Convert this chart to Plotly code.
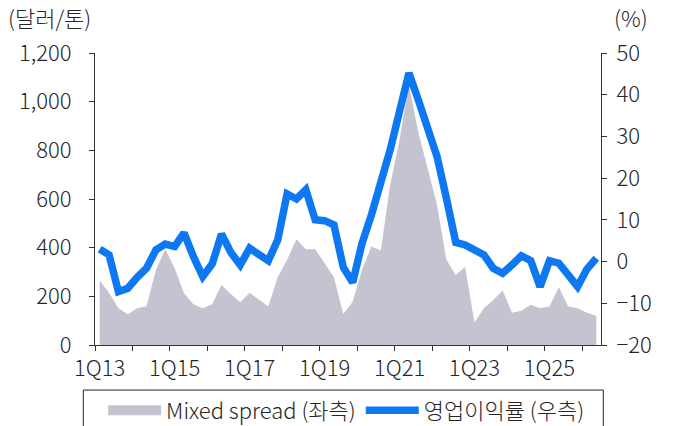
import plotly.graph_objects as go

quarters = [
    "1Q13", "2Q13", "3Q13", "4Q13", "1Q14", "2Q14", "3Q14", "4Q14",
    "1Q15", "2Q15", "3Q15", "4Q15", "1Q16", "2Q16", "3Q16", "4Q16",
    "1Q17", "2Q17", "3Q17", "4Q17", "1Q18", "2Q18", "3Q18", "4Q18",
    "1Q19", "2Q19", "3Q19", "4Q19", "1Q20", "2Q20", "3Q20", "4Q20",
    "1Q21", "2Q21", "3Q21", "4Q21", "1Q22", "2Q22", "3Q22", "4Q22",
    "1Q23", "2Q23", "3Q23", "4Q23", "1Q24", "2Q24", "3Q24", "4Q24",
    "1Q25", "2Q25", "3Q25", "4Q25", "1Q26", "2Q26",
]

mixed_spread = [
    265, 215, 151, 126, 151, 159, 309, 394,
    315, 213, 167, 151, 167, 247, 210, 176,
    215, 185, 158, 278, 350, 435, 394, 394,
    336, 278, 127, 178, 309, 405, 388, 658,
    843, 1070, 875, 720, 576, 350, 288, 322,
    92, 151, 185, 224, 133, 141, 165, 151,
    158, 237, 158, 151, 133, 119,
]

op_margin = [
    3.0, 1.6, -7.2, -6.4, -3.8, -1.6, 2.8, 4.2,
    3.6, 6.9, 1.2, -3.6, -0.6, 6.6, 2.2, -0.8,
    3.2, 1.5, 0.2, 5.2, 16.2, 15.0, 17.2, 10.0,
    9.8, 8.8, -1.4, -5.0, 4.4, 11.2, 18.4, 26.8,
    36.0, 45.2, 38.8, 32.0, 25.2, 15.2, 4.6, 4.0,
    2.8, 1.6, -1.6, -2.8, -0.8, 1.4, 0.2, -6.0,
    0.2, -0.4, -3.2, -6.0, -1.8, 0.8,
]

tick_labels = ["1Q13", "1Q15", "1Q17", "1Q19", "1Q21", "1Q23", "1Q25"]

left_title = "(달러/톤)"
right_title = "(%)"
name_spread = "Mixed spread (좌측)"
name_margin = "영업이익률 (우측)"

FONT = "Noto Sans CJK KR"
TXT = "#262626"
AX = "#333333"
GRAY = "#C3C4CF"
BLUE = "#0E78F2"
FS = 22

x = list(range(len(quarters)))
tickvals = [quarters.index(t) for t in tick_labels]

fig = go.Figure()
fig.add_trace(go.Scatter(
    x=x, y=mixed_spread, name=name_spread, mode="lines",
    fill="tozeroy", fillcolor=GRAY, line=dict(width=0, color=GRAY),
    yaxis="y", hoverinfo="skip", showlegend=False, legendgroup="s",
))
# legend proxy for the area series (rectangular swatch)
fig.add_trace(go.Scatter(
    x=[None], y=[None], name=name_spread, mode="lines",
    line=dict(width=12.6, color=GRAY), yaxis="y", legendgroup="s",
    showlegend=True,
))
fig.add_trace(go.Scatter(
    x=x, y=op_margin, name=name_margin, mode="lines",
    line=dict(width=7.5, color=BLUE), yaxis="y2",
))

fnt = dict(family=FONT, size=FS, color=TXT, weight=300)

fig.update_layout(
    width=673, height=426,
    margin=dict(l=95, r=72, t=53, b=81, pad=0, autoexpand=False),
    paper_bgcolor="white", plot_bgcolor="white",
    font=fnt,
    showlegend=True,
    legend=dict(
        orientation="h", xref="paper", yref="paper",
        x=0.016, xanchor="left", y=-0.1526, yanchor="top",
        font=fnt, itemwidth=53,
        bgcolor="rgba(0,0,0,0)", borderwidth=0,
        tracegroupgap=0, itemclick=False, traceorder="normal",
    ),
    xaxis=dict(
        range=[-0.5, len(quarters) - 0.5],
        tickmode="array", tickvals=tickvals, ticktext=tick_labels,
        ticks="", showgrid=False, zeroline=False,
        showline=True, linecolor=AX, linewidth=1.2,
        ticklabelstandoff=3, automargin=False,
        minor=dict(tick0=-0.5, dtick=4, ticks="outside", ticklen=5,
                   tickcolor=AX, tickwidth=1, showgrid=False),
    ),
    yaxis=dict(
        range=[0, 1200], dtick=200, tickformat=",",
        ticks="outside", ticklen=5, tickcolor=AX,
        showgrid=False, zeroline=False, automargin=False,
        showline=True, linecolor=AX, linewidth=1.2,
        ticklabelstandoff=13,
    ),
    yaxis2=dict(
        range=[-20, 50], dtick=10, overlaying="y", side="right",
        ticks="outside", ticklen=5, tickcolor=AX,
        showgrid=False, zeroline=False, automargin=False,
        showline=True, linecolor=AX, linewidth=1.2,
        ticklabelstandoff=5,
    ),
    shapes=[dict(
        type="rect", xref="paper", yref="paper",
        x0=-0.0231, x1=1.0045, y0=-0.32, y1=-0.1543,
        line=dict(color="#222", width=1), fillcolor="rgba(0,0,0,0)",
    )],
    annotations=[
        dict(text=left_title, xref="paper", yref="paper", x=-0.176, y=1.122,
             xanchor="left", yanchor="middle", showarrow=False, font=fnt),
        dict(text=right_title, xref="paper", yref="paper", x=1.022, y=1.122,
             xanchor="left", yanchor="middle", showarrow=False, font=fnt),
    ],
)

fig.write_html("out.html", config={"displayModeBar": False},
               post_script="document.body.style.margin='0';")
